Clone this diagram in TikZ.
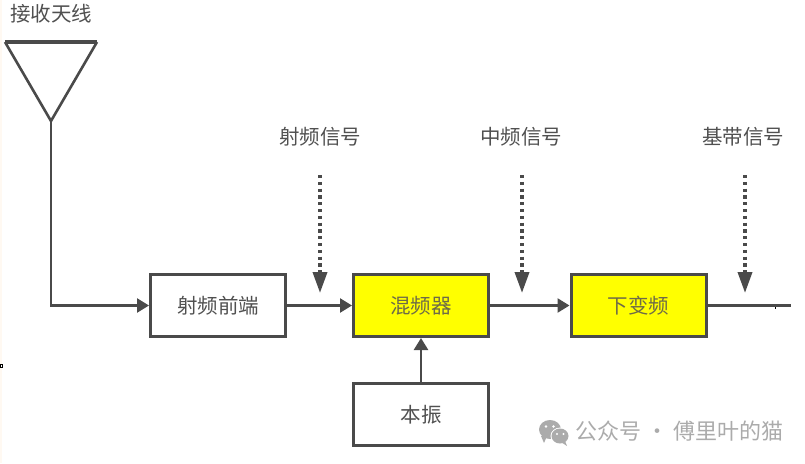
\documentclass[tikz,border=0pt]{standalone}
\usepackage{fontspec}
\setmainfont{Noto Sans CJK SC}
\usetikzlibrary{arrows.meta,calc,shadows}
\definecolor{linegray}{HTML}{4A4A4A}
\definecolor{textgray}{HTML}{505050}
\definecolor{markgray}{HTML}{ABABAB}
\definecolor{blockyellow}{HTML}{FFFF00}
\tikzset{
  every node/.style={font=\fontsize{20.5}{22}\selectfont,text=textgray,inner sep=0pt},
  block/.style={draw=linegray,line width=3pt,minimum width=135pt,minimum height=62pt,fill=white,
    general shadow={shadow xshift=1.2pt,shadow yshift=-1.2pt,fill=black!18}},
  mixer/.style={block,fill=blockyellow,text=black!65!yellow},
  link/.style={draw=linegray,line width=2.5pt,-{Triangle[length=12pt,width=14pt]}},
  probe/.style={draw=linegray,line width=3.6pt,dash pattern=on 3.2pt off 3.6pt,
    -{Triangle[length=21pt,width=14pt,fill=linegray]}},
  caption/.style={anchor=center},
  acctmark/.style={font=\fontsize{22}{24}\selectfont,text=markgray,anchor=west},
}
\begin{document}
\begin{tikzpicture}[x=1pt,y=-1pt]
\useasboundingbox (0,0) rectangle (805,463);

% pale strip along the left edge, with its small tick
\fill[orange!5] (0,0) rectangle (2,463);
\draw[black,line width=0.8pt,fill=white] (0,364) rectangle (2.5,367);

% antenna
\coordinate (tipL) at (5,42);
\coordinate (tipR) at (97,42);
\coordinate (feed) at (51,121);
\draw[linegray,line width=2.6pt,line join=miter] (tipL) -- (feed) -- (tipR);
\draw[linegray,line width=3.6pt] (tipL) -- (tipR);
\node[caption] (ant) at (51,14) {接收天线};

% signal chain blocks
\node[block] (rf) at (218,305.5) {射频前端};
\node[mixer] (mix) at (421,305.5) {混频器};
\node[mixer] (down) at (638.5,305.5) {下变频};
\node[block] (lo) at (421,414.5) {本振};

% connectors
\draw[link] (feed) |- (rf.west);
\draw[link] (rf.east) -- (mix.west);
\draw[link] (mix.east) -- (down.west);
\draw[link] (lo.north) -- (mix.south);
\coordinate (out) at (791,305.5);
\draw[linegray,line width=2.5pt] (down.east) -- (out);
\fill[black] (774.5,306.5) rectangle (776,308.5);

% signal annotations
\node[caption] (sigrf) at (320,137) {射频信号};
\node[caption] (sigif) at (521,137) {中频信号};
\node[caption] (sigbb) at (743,137) {基带信号};
\coordinate (prf) at (320,175);
\coordinate (pif) at (522,175);
\coordinate (pbb) at (745,175);
\draw[probe] (prf) -- ++(0,118);
\draw[probe] (pif) -- ++(0,118);
\draw[probe] (pbb) -- ++(0,118);

% account mark
\fill[markgray] (550,429.5) ellipse (11pt and 9.5pt);
\fill[markgray] (541,436) -- (544,443) -- (547,436) -- cycle;
\fill[white] (560.5,436) ellipse (10pt and 8.5pt);
\fill[markgray] (560,436) ellipse (8.5pt and 7.5pt);
\fill[markgray] (565,441) -- (567,446) -- (561,442) -- cycle;
\fill[white] (546,426.5) circle (1.4pt) (553.5,426.5) circle (1.4pt);
\fill[white] (557,434) circle (1.1pt) (563.5,434) circle (1.1pt);
\node[acctmark] (acct) at (575,431.5) {公众号 · 傅里叶的猫};
\end{tikzpicture}
\end{document}
